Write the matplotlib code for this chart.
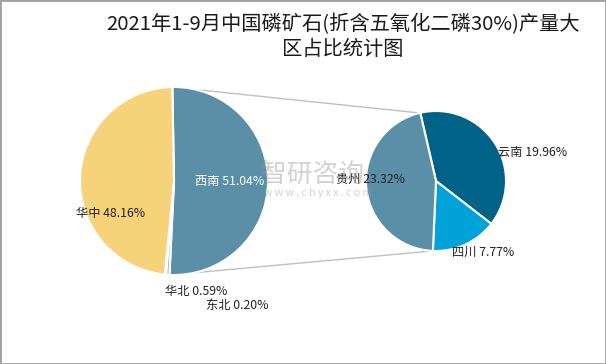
import matplotlib.pyplot as plt
from matplotlib.patches import Rectangle

plt.rcParams['font.family'] = ['Noto Sans CJK SC', 'DejaVu Sans']

# main pie
main_labels = ["西南", "华北", "东北", "华中"]
main_values = [51.04, 0.59, 0.20, 48.16]
main_colors = ["#5B8FA8", "#8FB9CF", "#B7CDD8", "#F6D27A"]

# breakdown of 西南
sub_labels = ["云南", "四川", "贵州"]
sub_values = [19.96, 7.77, 23.32]
sub_colors = ["#006287", "#00A2DA", "#5B8FA8"]

title = "2021年1-9月中国磷矿石(折含五氧化二磷30%)产量大\n区占比统计图"

W, H = 606, 364
fig = plt.figure(figsize=(W / 100, H / 100), dpi=100)
ax = fig.add_axes([0, 0, 1, 1])

def py(y):
    # pixel row (from top) -> data y
    return H - y

c1, r1 = (174, py(181)), 94
c2, r2 = (436, py(181)), 70

# connector lines
ax.plot([171, 420], [py(87), py(113)], color="#BFBFBF", lw=1, zorder=1)
ax.plot([170, 432], [py(275), py(251)], color="#BFBFBF", lw=1, zorder=1)

ax.pie(main_values, colors=main_colors, startangle=91, counterclock=False,
       center=c1, radius=r1, frame=True,
       wedgeprops=dict(edgecolor="white", linewidth=1.5))
ax.pie(sub_values, colors=sub_colors, startangle=103, counterclock=False,
       center=c2, radius=r2, frame=True,
       wedgeprops=dict(edgecolor="white", linewidth=1.5))
ax.set_xlim(0, W)
ax.set_ylim(0, H)
ax.axis("off")

fs = 8.8
def lab(x, y, name, val, color="#222222"):
    ax.text(x, py(y), f"{name} {val:.2f}%", fontsize=fs, color=color,
            ha="left", va="center", zorder=5)

lab(195, 181, main_labels[0], main_values[0], color="white")
lab(76, 214, main_labels[3], main_values[3])
lab(165, 291, main_labels[1], main_values[1])
lab(206, 305, main_labels[2], main_values[2])
lab(498, 152, sub_labels[0], sub_values[0])
lab(452, 252, sub_labels[1], sub_values[1])
lab(336, 179, sub_labels[2], sub_values[2])

# watermark
ax.text(312, py(175), "智研咨询", fontsize=18.5, color="#9A9A9A", alpha=0.45,
        ha="center", va="center", zorder=6)
ax.text(318, py(193), "w w w . c h y x x . c o m", fontsize=7.5, color="#9A9A9A",
        alpha=0.45, ha="center", va="center", zorder=6)

fig.text(0.566, 1 - 37 / H, title, fontsize=14.6, ha="center", va="center",
         color="#1A1A1A", linespacing=1.25)

fig.patches.append(Rectangle((0, 0), 1, 1, transform=fig.transFigure,
                             fill=False, edgecolor="#A0A0A0", lw=2))

fig.savefig("out.png", dpi=100)
